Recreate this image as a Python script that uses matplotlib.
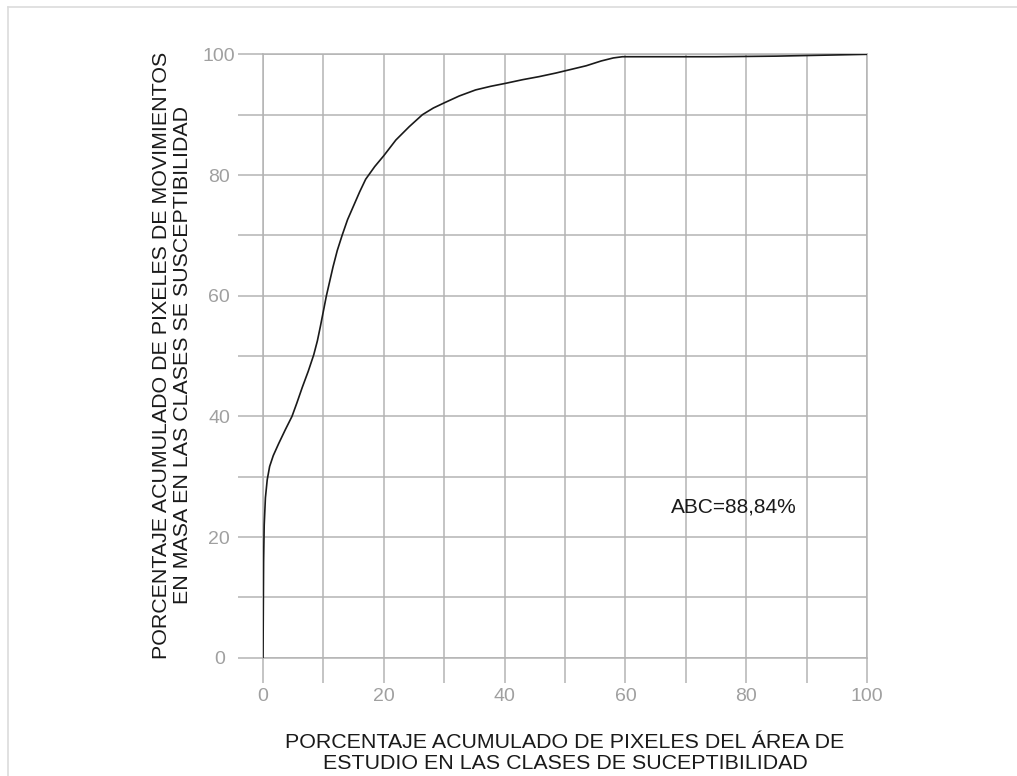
import matplotlib
matplotlib.use("Agg")
import matplotlib.pyplot as plt
from matplotlib.lines import Line2D

plt.rcParams['font.family'] = ['Liberation Sans', 'DejaVu Sans']

# curva acumulada
area_pct = [0, 0.05, 0.1, 0.2, 0.4, 0.7, 1.1, 1.7, 2.6, 3.7, 4.8, 5.6, 6.5, 7.5,
            8.4, 9.0, 9.5, 10.5, 11.6, 12.3, 13.1, 14.0, 15.0, 16.0, 17.0, 18.5,
            20, 22, 24.2, 26.4, 28.2, 30.1, 32.5, 35.2, 37.7, 40.2, 43, 45.7, 48.5,
            51, 53.5, 56, 58, 59.5, 65, 75, 85, 90, 95, 100]
mov_pct = [0, 8, 16, 22, 26.5, 29.5, 31.7, 33.5, 35.5, 37.8, 40, 42.2, 44.8, 47.5,
           50.2, 52.5, 54.9, 60, 64.8, 67.5, 70, 72.6, 74.9, 77.2, 79.3, 81.4,
           83.2, 85.8, 88, 90, 91.1, 92, 93.1, 94.1, 94.7, 95.2, 95.8, 96.3, 96.9,
           97.5, 98.1, 98.9, 99.4, 99.6, 99.6, 99.6, 99.7, 99.8, 99.9, 100]

ticks = list(range(0, 101, 10))
tick_labels = [str(t) if t % 20 == 0 else "" for t in ticks]

abc_text = "ABC=88,84%"
xlabel = "PORCENTAJE ACUMULADO DE PIXELES DEL ÁREA DE\nESTUDIO EN LAS CLASES DE SUCEPTIBILIDAD"
ylabel = "PORCENTAJE ACUMULADO DE PIXELES DE MOVIMIENTOS\nEN MASA EN LAS CLASES SE SUSCEPTIBILIDAD"

grid_col = "#b4b4b4"

fig = plt.figure(figsize=(10.17, 7.76), dpi=100)
ax = fig.add_axes((0.2586, 0.1524, 0.5939, 0.7776))

ax.plot(area_pct, mov_pct, color="#1a1a1a", lw=1.2, zorder=3)

ax.set_xlim(0, 100)
ax.set_ylim(0, 100)
ax.set_xticks(ticks)
ax.set_yticks(ticks)
ax.set_xticklabels(tick_labels)
ax.set_yticklabels(tick_labels)
ax.tick_params(axis="both", length=18, width=1.1, color=grid_col,
               labelcolor="#a0a0a0", labelsize=14)
ax.tick_params(axis="x", pad=3.5)
ax.tick_params(axis="y", pad=13.5)
for lab in ax.get_yticklabels():
    lab.set_horizontalalignment("center")
ax.grid(True, color=grid_col, lw=1.1)
for s in ax.spines.values():
    s.set_color(grid_col)
    s.set_linewidth(1.1)

ax.text(67.6, 24.0, abc_text, fontsize=15, color="#1a1a1a")

fig.text(0.5556, 0.0296, xlabel, ha="center", va="center", fontsize=15.4,
         color="#1a1a1a", linespacing=1.15)
fig.text(0.169, 0.5425, ylabel, ha="center", va="center", rotation=90,
         fontsize=15.4, color="#1a1a1a", linespacing=1.15)

# marco tenue de la figura
fig.add_artist(Line2D([0.008, 1.0], [0.991, 0.991], color="#dcdcdc", lw=1.2,
                      transform=fig.transFigure))
fig.add_artist(Line2D([0.008, 0.008], [0.0, 0.991], color="#dcdcdc", lw=1.2,
                      transform=fig.transFigure))

fig.savefig("out.png", dpi=100)
